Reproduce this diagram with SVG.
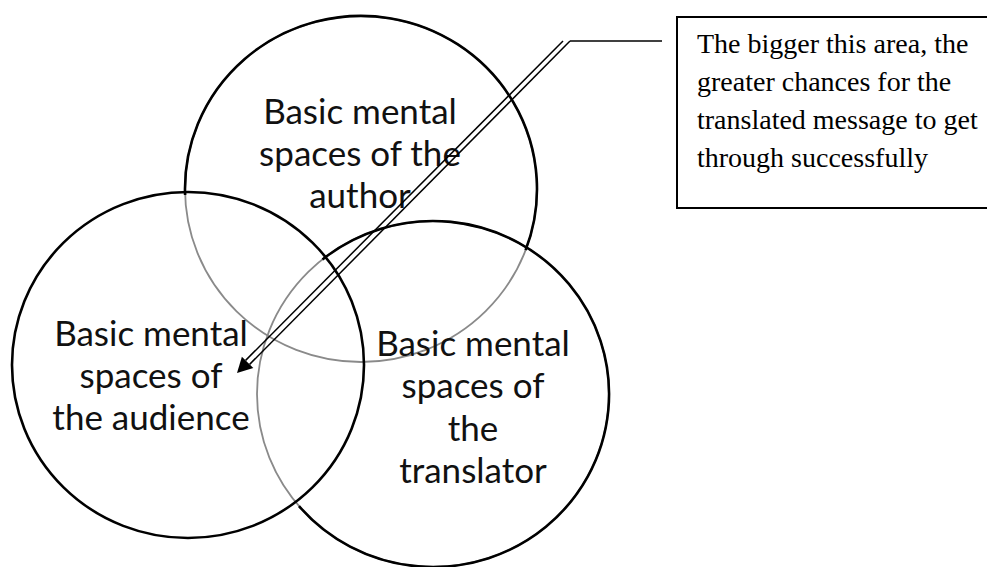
<svg xmlns="http://www.w3.org/2000/svg" width="987" height="567" viewBox="0 0 987 567">
<style>
.bk{fill:none;stroke:#000;stroke-width:2.6}
.gr{fill:none;stroke:#8a8a8a;stroke-width:1.8}
.lbl{font-family:Lato,"Liberation Sans",sans-serif;font-size:35px;fill:#111;text-anchor:middle}
.note{font-family:"Liberation Serif","Times New Roman",serif;font-size:28px;fill:#000}
.ln{fill:none;stroke:#000;stroke-width:1.5}
</style>
<rect width="987" height="567" fill="#fff"/>
<g id="author">
<ellipse class="gr" cx="361" cy="189" rx="176" ry="173"/>
<path class="bk" d="M185.1 195 A176 173 0 1 1 525.6 250.1"/>
<text class="lbl" x="360" y="124">Basic mental</text>
<text class="lbl" x="360" y="166">spaces of the</text>
<text class="lbl" x="360" y="208">author</text>
</g>
<g id="translator">
<ellipse class="gr" cx="433" cy="394" rx="176" ry="173"/>
<path class="bk" d="M322.5 259.4 A176 173 0 1 1 299 506.1"/>
<text class="lbl" x="473" y="356">Basic mental</text>
<text class="lbl" x="473" y="398">spaces of</text>
<text class="lbl" x="473" y="441">the</text>
<text class="lbl" x="473" y="483">translator</text>
</g>
<g id="audience">
<ellipse class="bk" cx="188" cy="365" rx="176" ry="173"/>
<text class="lbl" x="151" y="346">Basic mental</text>
<text class="lbl" x="151" y="388">spaces of</text>
<text class="lbl" x="151" y="430">the audience</text>
</g>
<g id="callout">
<rect x="677" y="17" width="320" height="191" fill="#fff" stroke="#000" stroke-width="2"/>
<text class="note" x="697" y="53">The bigger this area, the</text>
<text class="note" x="697" y="91">greater chances for the</text>
<text class="note" x="697" y="129">translated message to get</text>
<text class="note" x="697" y="167">through successfully</text>
</g>
<g id="connectors">
<path class="ln" d="M570 41 H662"/>
<path class="ln" d="M563 41 L245.6 360.4"/>
<path class="ln" d="M570 41 L249.6 364.4"/>
<polygon points="237,373 241.9,356.8 253.3,368" fill="#000"/>
</g>
</svg>
